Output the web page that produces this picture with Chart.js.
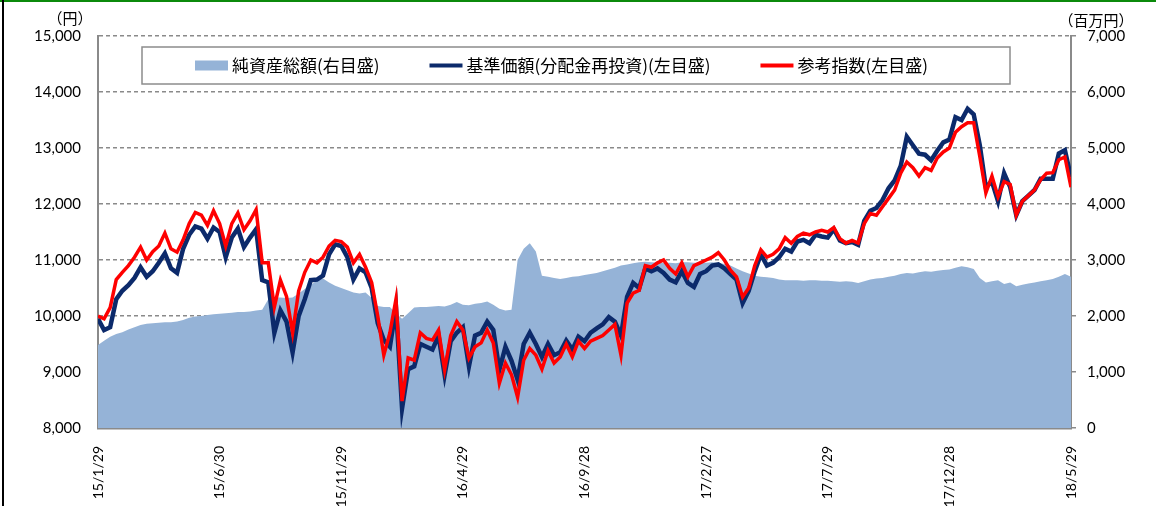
<!DOCTYPE html>
<html>
<head>
<meta charset="utf-8">
<script src="https://cdn.jsdelivr.net/npm/chart.js@4.4.0/dist/chart.umd.min.js"></script>
<style>
  body { margin: 0; background: #fff; }
  #wrap { position: relative; width: 1156px; height: 506px; }
  #wrap .frameTop { position: absolute; left: 0; top: 0; width: 1156px; height: 2px; background: #0b8a0b; }
  #wrap .frameLeft { position: absolute; left: 2px; top: 0; width: 2px; height: 506px; background: #000; }
</style>
</head>
<body>
<div id="wrap">
  <canvas id="myChart" width="1156" height="506"></canvas>
  <div class="frameTop"></div>
  <div class="frameLeft"></div>
</div>
<script>
// x軸ラベル（5ヶ月ごと）
const xTickLabels = ["15/1/29", "15/6/30", "15/11/29", "16/4/29", "16/9/28", "17/2/27", "17/7/29", "17/12/28", "18/5/29"];
const monthsPerTick = 5;
const monthsPerPoint = 0.25; // 約1週間ごとのサンプル

// 基準価額（分配金再投資）（円）
const navValues = [
  9950, 9750, 9800, 10300, 10450, 10550, 10680, 10870, 10700, 10800,
  10950, 11120, 10850, 10770, 11200, 11450, 11600, 11560, 11380, 11580,
  11500, 11050, 11400, 11560, 11230, 11400, 11550, 10640, 10600, 9700,
  10100, 9900, 9350, 10000, 10300, 10640, 10650, 10720, 11100, 11280,
  11250, 11050, 10650, 10850, 10780, 10500, 9870, 9570, 9450, 10150,
  8350, 9050, 9100, 9500, 9450, 9400, 9650, 8950, 9550, 9700,
  9800, 9100, 9650, 9700, 9900, 9750, 9040, 9450, 9200, 8860,
  9500, 9700, 9500, 9270, 9500, 9300, 9350, 9560, 9400, 9630,
  9550, 9700, 9780, 9850, 9980, 9900, 9650, 10340, 10590, 10500,
  10850, 10800, 10850, 10770, 10650, 10600, 10800, 10590, 10520, 10750,
  10800, 10900, 10920, 10850, 10750, 10650, 10230, 10450, 10800, 11100,
  10900, 10950, 11050, 11200, 11150, 11330, 11360, 11300, 11450, 11420,
  11400, 11550, 11350, 11300, 11320, 11270, 11700, 11880, 11930, 12070,
  12280, 12420, 12680, 13200, 13050, 12900, 12880, 12780, 12950, 13100,
  13150, 13550, 13500, 13700, 13600, 13050, 12300, 12400, 12050, 12550,
  12300, 11800, 12050, 12150, 12250, 12450, 12450, 12450, 12900, 12960,
  12480
];

// 参考指数（円換算）
const refValues = [
  10000, 9950, 10150, 10650, 10780, 10900, 11050, 11230, 11000, 11150,
  11250, 11480, 11200, 11140, 11360, 11650, 11850, 11800, 11620, 11880,
  11650, 11250, 11650, 11840, 11540, 11700, 11900, 10950, 10950, 10160,
  10640, 10350, 9700, 10450, 10780, 11000, 10950, 11050, 11250, 11350,
  11330, 11230, 10950, 11100, 10870, 10600, 10000, 9300, 9700, 10300,
  8480, 9250, 9210, 9700, 9600, 9570, 9750, 9040, 9650, 9900,
  9750, 9250, 9450, 9520, 9750, 9520, 8800, 9160, 8950, 8550,
  9210, 9420, 9300, 9050, 9380, 9160, 9270, 9500, 9270, 9550,
  9420, 9550, 9600, 9650, 9750, 9850, 9300, 10230, 10410, 10460,
  10900, 10870, 10950, 11000, 10850, 10750, 10950, 10700, 10900, 10950,
  11000, 11050, 11130, 11000, 10820, 10700, 10340, 10500, 10900, 11180,
  11050, 11100, 11200, 11400, 11300, 11420, 11480, 11450, 11500, 11530,
  11500, 11580, 11380, 11300, 11350, 11300, 11650, 11830, 11800, 11950,
  12100, 12250, 12550, 12750, 12650, 12500, 12650, 12600, 12820, 12930,
  13000, 13280, 13380, 13450, 13450, 12850, 12200, 12500, 12130, 12400,
  12350, 11800, 12050, 12150, 12250, 12430, 12550, 12560, 12790, 12840,
  12300
];

// 純資産総額（百万円）
const aumValues = [
  1480, 1560, 1630, 1680, 1710, 1760, 1800, 1840, 1860, 1870,
  1880, 1890, 1890, 1900, 1930, 1970, 1990, 2000, 2020, 2030,
  2040, 2050, 2060, 2070, 2070, 2080, 2100, 2110, 2300, 2330,
  2330, 2320, 2330, 2400, 2480, 2560, 2630, 2670, 2600, 2540,
  2500, 2460, 2420, 2400, 2420, 2320, 2180, 2160, 2160, 2050,
  1950, 2050, 2150, 2160, 2160, 2170, 2180, 2170, 2200, 2250,
  2200, 2190, 2220, 2230, 2260, 2200, 2130, 2100, 2110, 3000,
  3200, 3300, 3150, 2720, 2700, 2680, 2660, 2680, 2700, 2710,
  2730, 2750, 2770, 2800, 2830, 2860, 2900, 2920, 2940, 2960,
  2970, 2960, 2950, 2950, 2950, 2940, 2960, 2960, 2950, 2950,
  2950, 2960, 2950, 2930, 2900, 2850, 2800, 2760, 2720, 2700,
  2690, 2680, 2650, 2640, 2640, 2640, 2630, 2640, 2640, 2630,
  2630, 2620, 2610, 2620, 2610, 2590, 2620, 2650, 2670, 2680,
  2700, 2720, 2750, 2770, 2760, 2780, 2800, 2790, 2810, 2820,
  2830, 2860, 2890, 2870, 2840, 2680, 2600, 2620, 2640, 2570,
  2600, 2530, 2560, 2580, 2600, 2620, 2640, 2660, 2700, 2750,
  2700
];

const toPoints = (arr) => arr.map((v, i) => ({ x: i * monthsPerPoint, y: v }));

const numFont = { family: "Lato, 'Noto Sans CJK JP', sans-serif", size: 15 };
const jpFont = "'Noto Sans CJK JP', sans-serif";
const gridGray = "#8a8a8a";

// 凡例（枠付き）と単位ラベル
const legendBoxPlugin = {
  id: "legendBoxPlugin",
  afterDraw(chart) {
    const { ctx, chartArea } = chart;
    const ds = chart.data.datasets;

    ctx.save();
    // 単位
    ctx.fillStyle = "#000";
    ctx.font = "15px " + jpFont;
    ctx.textAlign = "center";
    ctx.textBaseline = "middle";
    ctx.fillText("（円）", 70, 18);
    ctx.fillText("（百万円）", 1096, 20);

    // 凡例の枠
    const boxX = chartArea.left + 44;
    const boxY = chartArea.top + 11;
    const boxW = 868;
    const boxH = 37;
    ctx.fillStyle = "#fff";
    ctx.fillRect(boxX, boxY, boxW, boxH);
    ctx.strokeStyle = "#8c8c8c";
    ctx.lineWidth = 1.5;
    ctx.strokeRect(boxX, boxY, boxW, boxH);

    // 凡例項目（面、線、線）
    const items = [ds[2], ds[1], ds[0]];
    const midY = boxY + boxH / 2;
    let x = boxX + 53;
    ctx.font = "17px " + jpFont;
    ctx.textAlign = "left";
    items.forEach((d) => {
      if (d.fill) {
        ctx.fillStyle = d.backgroundColor;
        ctx.fillRect(x, midY - 5, 33, 10);
      } else {
        ctx.strokeStyle = d.borderColor;
        ctx.lineWidth = 4;
        ctx.beginPath();
        ctx.moveTo(x, midY);
        ctx.lineTo(x + 33, midY);
        ctx.stroke();
      }
      ctx.fillStyle = "#000";
      ctx.fillText(d.label, x + 37, midY);
      x += 37 + ctx.measureText(d.label).width + 50;
    });
    ctx.restore();
  },
};

const ctx = document.getElementById("myChart").getContext("2d");

new Chart(ctx, {
  type: "line",
  data: {
    datasets: [
      {
        label: "参考指数(左目盛)",
        data: toPoints(refValues),
        yAxisID: "y",
        borderColor: "#ff0000",
        borderWidth: 3.5,
        pointRadius: 0,
        tension: 0,
        fill: false,
        order: 1,
      },
      {
        label: "基準価額(分配金再投資)(左目盛)",
        data: toPoints(navValues),
        yAxisID: "y",
        borderColor: "#0c2a6b",
        borderWidth: 4.5,
        pointRadius: 0,
        tension: 0,
        fill: false,
        order: 2,
      },
      {
        label: "純資産総額(右目盛)",
        data: toPoints(aumValues),
        yAxisID: "y1",
        borderWidth: 0,
        backgroundColor: "#95b3d7",
        pointRadius: 0,
        tension: 0,
        fill: "start",
        order: 3,
      },
    ],
  },
  options: {
    responsive: false,
    animation: false,
    layout: { padding: { top: 36, left: 0, right: 0, bottom: 0 } },
    scales: {
      x: {
        type: "linear",
        min: 0,
        max: (xTickLabels.length - 1) * monthsPerTick,
        afterBuildTicks: (s) => {
          s.ticks = xTickLabels.map((_, i) => ({ value: i * monthsPerTick }));
        },
        afterFit: (s) => { s.height = 78; },
        grid: { display: false },
        border: { display: true, color: gridGray, width: 2.5 },
        ticks: {
          autoSkip: false,
          maxRotation: 90,
          minRotation: 90,
          padding: 10,
          color: "#000",
          font: { family: "Lato, sans-serif", size: 14 },
          callback: (v) => xTickLabels[Math.round(v / monthsPerTick)],
        },
      },
      y: {
        position: "left",
        min: 8000,
        max: 15000,
        afterFit: (s) => { s.width = 98; },
        grid: { color: gridGray, lineWidth: 1.5, drawTicks: false },
        border: { display: true, color: gridGray, width: 2, dash: [4, 3] },
        ticks: {
          stepSize: 1000,
          padding: 17,
          color: "#000",
          font: numFont,
          callback: (v) => v.toLocaleString("en-US"),
        },
      },
      y1: {
        position: "right",
        min: 0,
        max: 7000,
        afterFit: (s) => { s.width = 85; },
        grid: { drawOnChartArea: false, drawTicks: true, tickLength: 5, color: gridGray, lineWidth: 1.5 },
        border: { display: true, color: gridGray, width: 2 },
        ticks: {
          stepSize: 1000,
          padding: 11,
          color: "#000",
          font: numFont,
          callback: (v) => v.toLocaleString("en-US"),
        },
      },
    },
    plugins: {
      legend: { display: false },
      tooltip: { enabled: false },
    },
  },
  plugins: [legendBoxPlugin],
});
</script>
</body>
</html>
